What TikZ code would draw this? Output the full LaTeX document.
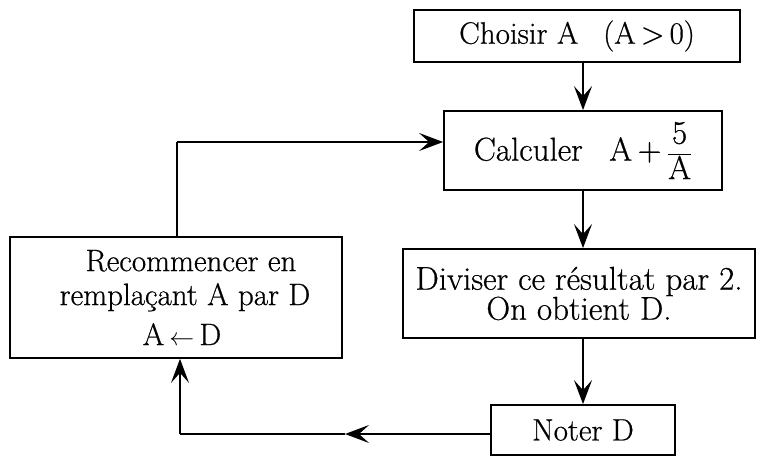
\documentclass[tikz,border=0pt]{standalone}
\usepackage{fontspec}
\setmainfont{Latin Modern Roman}[FakeBold=0.6]
\usetikzlibrary{arrows.meta}
\begin{document}
\begin{tikzpicture}[x=1pt,y=-1pt,
  box/.style={draw,line width=1.8pt,inner sep=0pt,align=center,font=\fontsize{31}{31}\selectfont},
  conn/.style={line width=1.8pt},
  arr/.style={conn,-{Stealth[length=24pt,width=18pt,inset=10pt]}}]
\useasboundingbox (0,0) rectangle (757,457);
\node[box,minimum width=326pt,minimum height=52pt] (choisir) at (577,36) {Choisir A\enspace\ (A\,>\,0)};
\node[box,minimum width=278pt,minimum height=79pt,font=\fontsize{33}{33}\selectfont] (calc) at (583,150.5) {Calculer\enspace\ A\,+\,$\displaystyle\frac{\hbox{5}}{\hbox{A}}$};
\node[box,minimum width=352pt,minimum height=89pt,font=\fontsize{33}{30}\selectfont] (div) at (579,293.5) {Diviser ce résultat par 2.\\ On obtient D.};
\node[box,minimum width=184pt,minimum height=50pt] (noter) at (583,430) {Noter D};
\node[box,minimum width=332pt,minimum height=121pt] (rec) at (176,297.5) {\hspace*{30pt}Recommencer en\\[3pt] \hspace*{18pt}remplaçant A par D\\[9pt] \hspace*{12pt}A\,$\leftarrow$\,D};
\coordinate (top) at (177,142);
\coordinate (mid) at (345,434);
\coordinate (bl) at (180,434);
\draw[arr] (calc.north |- choisir.south) -- (calc.north);
\draw[arr] (calc.south) -- (calc.south |- div.north);
\draw[arr] (noter.north |- div.south) -- (noter.north);
\draw[conn] (rec.north -| top) -- (top);
\draw[arr] (top) -- (calc.west |- top);
\draw[arr] (noter.west |- mid) -- (mid);
\draw[conn] (mid) -- (bl);
\draw[arr] (bl) -- (rec.south -| bl);
\end{tikzpicture}
\end{document}
